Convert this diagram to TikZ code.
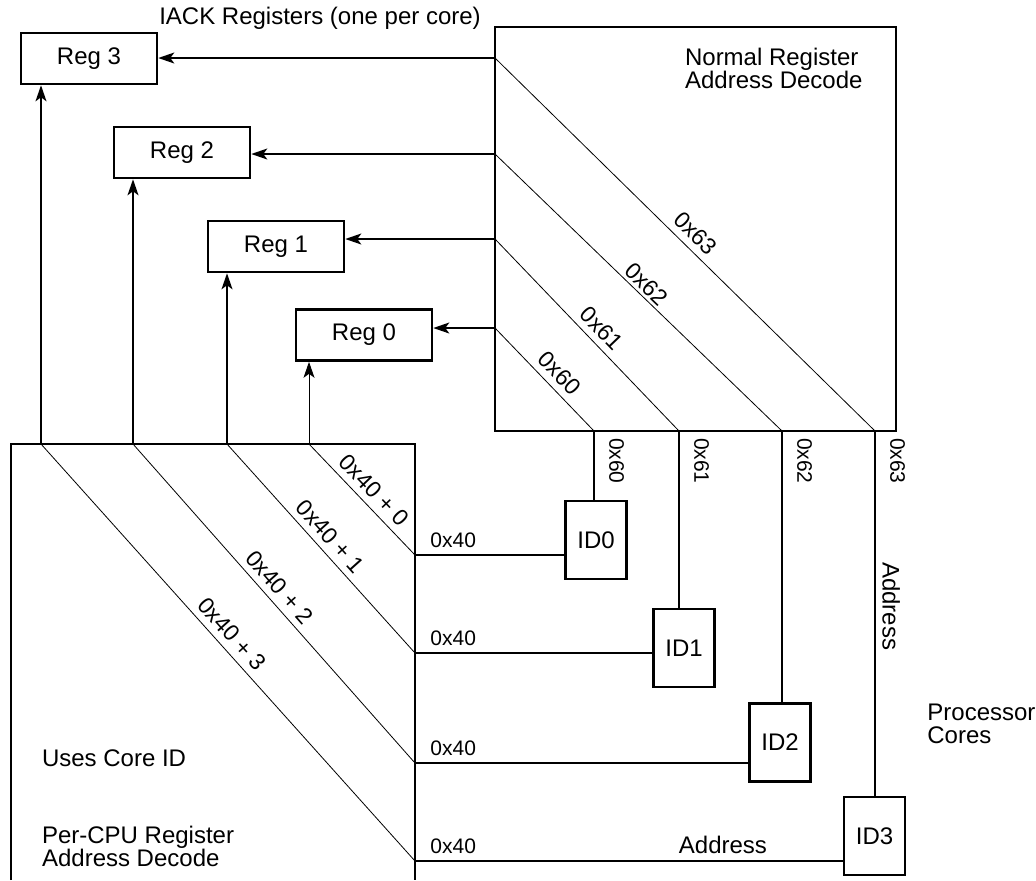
\documentclass[tikz,border=0pt]{standalone}
\usepackage{fontspec}
\setmainfont{Liberation Sans}
\usetikzlibrary{arrows.meta}

\begin{document}
\begin{tikzpicture}[x=0.5pt, y=-0.5pt]
  % Styles
  \tikzstyle{reg} = [draw, line width=1.3pt, minimum width=68pt, minimum height=25.5pt, inner sep=0pt, font=\fontsize{12}{14}\selectfont]
  \tikzstyle{core} = [draw, line width=1.3pt, minimum width=30.5pt, minimum height=39pt, inner sep=0pt, font=\fontsize{12}{14}\selectfont]
  \tikzstyle{box} = [line width=1.3pt]
  \tikzstyle{wire} = [line width=0.8pt]
  \tikzstyle{feed} = [wire, -{Stealth[length=8pt, width=5.5pt, inset=2pt]}]
  \tikzstyle{diag} = [line width=0.4pt]
  \tikzstyle{hexa} = [font=\fontsize{10.5}{12}\selectfont]
  \tikzstyle{slant} = [font=\fontsize{11.5}{12}\selectfont, sloped, above, midway]
  \tikzstyle{txt} = [font=\fontsize{12}{11.5}\selectfont, align=left]

  \useasboundingbox (0,0) rectangle (1036,880);

  % IACK registers
  \node[txt] (iack) at (320,18) {IACK Registers (one per core)};
  \node[reg] (reg3) at (89,58.5) {Reg 3};
  \node[reg] (reg2) at (182,152.5) {Reg 2};
  \node[reg] (reg1) at (276,246.5) {Reg 1};
  \node[reg] (reg0) at (364,335) {Reg 0};

  % Normal decode block
  \draw[box] (495,27) rectangle (896,431);
  \node[txt, anchor=west] (normal) at (678,68) {Normal Register\\Address Decode};
  \coordinate (n3) at (495,58);
  \coordinate (n2) at (495,154);
  \coordinate (n1) at (495,239);
  \coordinate (n0) at (495,328);
  \coordinate (t3) at (875,431);
  \coordinate (t2) at (782,431);
  \coordinate (t1) at (679,431);
  \coordinate (t0) at (594,431);
  \draw[diag] (n3) -- node[slant] {0x63} (t3);
  \draw[diag] (n2) -- node[slant, inner sep=1.5pt] {0x62} (t2);
  \draw[diag] (n1) -- node[slant, pos=0.52] {0x61} (t1);
  \draw[diag] (n0) -- node[slant, pos=0.54] {0x60} (t0);
  \draw[feed] (n3) -- (n3 -| reg3.east);
  \draw[feed] (n2) -- (n2 -| reg2.east);
  \draw[feed] (n1) -- (n1 -| reg1.east);
  \draw[feed] (n0) -- (n0 -| reg0.east);

  % Per-CPU decode block
  \draw[box] (11,880) -- (11,444) -- (415,444) -- (415,880);
  \node[txt, anchor=west] (uses) at (35,758) {Uses Core ID};
  \node[txt, anchor=west] (percpu) at (35,846) {Per-CPU Register\\Address Decode};
  \coordinate (p3) at (41,444);
  \coordinate (p2) at (133,444);
  \coordinate (p1) at (227,444);
  \coordinate (p0) at (309,444);
  \coordinate (e3) at (415,861);
  \coordinate (e2) at (415,763);
  \coordinate (e1) at (415,653);
  \coordinate (e0) at (415,555);
  \draw[diag] (p3) -- node[slant, pos=0.48] {0x40 + 3} (e3);
  \draw[diag] (p2) -- node[slant, pos=0.48] {0x40 + 2} (e2);
  \draw[diag] (p1) -- node[slant, pos=0.49] {0x40 + 1} (e1);
  \draw[diag] (p0) -- node[slant, pos=0.51] {0x40 + 0} (e0);
  \draw[feed] (p3) -- (p3 |- reg3.south);
  \draw[feed] (p2) -- (p2 |- reg2.south);
  \draw[feed] (p1) -- (p1 |- reg1.south);
  \draw[feed, line width=0.5pt] (p0) -- (p0 |- reg0.south);

  % Processor cores
  \node[core] (id0) at (596,540) {ID0};
  \node[core] (id1) at (684,648) {ID1};
  \node[core] (id2) at (780,742.5) {ID2};
  \node[core] (id3) at (874.5,836) {ID3};
  \node[txt, anchor=west, inner sep=0pt] (cores) at (927,724) {Processor\\Cores};

  \draw[wire] (t0) -- (t0 |- id0.north);
  \draw[wire] (t1) -- (t1 |- id1.north);
  \draw[wire] (t2) -- (t2 |- id2.north);
  \draw[wire] (t3) -- node[txt, sloped, above, pos=0.48] {Address} (t3 |- id3.north);
  \node[hexa, rotate=-90, anchor=south west] at ([xshift=4pt]t0) {0x60};
  \node[hexa, rotate=-90, anchor=south west] at ([xshift=4pt]t1) {0x61};
  \node[hexa, rotate=-90, anchor=south west] at ([xshift=4pt]t2) {0x62};
  \node[hexa, rotate=-90, anchor=south west] at ([xshift=4pt]t3) {0x63};

  \draw[wire] (e0) -- node[hexa, pos=0, anchor=south west, xshift=4pt] {0x40} (e0 -| id0.west);
  \draw[wire] (e1) -- node[hexa, pos=0, anchor=south west, xshift=4pt] {0x40} (e1 -| id1.west);
  \draw[wire] (e2) -- node[hexa, pos=0, anchor=south west, xshift=4pt] {0x40} (e2 -| id2.west);
  \draw[wire] (e3) -- node[hexa, pos=0, anchor=south west, xshift=4pt] {0x40}
    node[txt, above, pos=0.72] {Address} (e3 -| id3.west);
\end{tikzpicture}
\end{document}
